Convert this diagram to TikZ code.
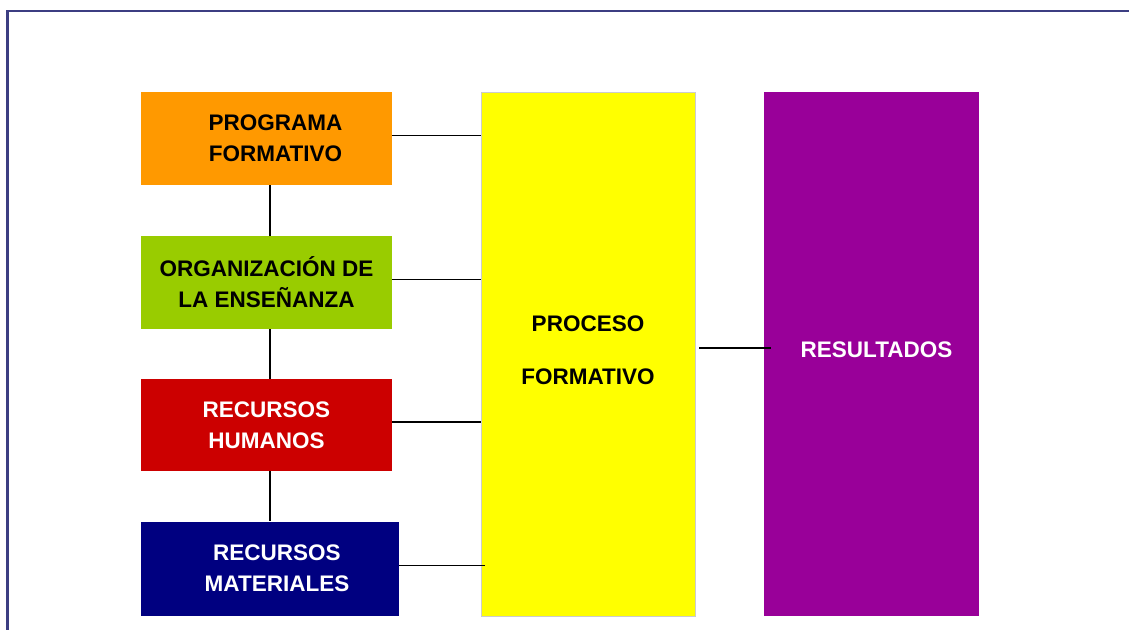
\documentclass[tikz,border=0pt]{standalone}
\usepackage{fontspec}
\setmainfont{Liberation Sans}
\usetikzlibrary{positioning}
\definecolor{pfOrange}{RGB}{255,153,0}
\definecolor{pfGreen}{RGB}{153,204,0}
\definecolor{pfRed}{RGB}{204,0,0}
\definecolor{pfNavy}{RGB}{0,0,128}
\definecolor{pfYellow}{RGB}{255,255,0}
\definecolor{pfPurple}{RGB}{153,0,153}
\definecolor{pfFrame}{RGB}{60,62,130}
\begin{document}
\begin{tikzpicture}[x=0.5pt, y=-0.5pt,
  box/.style={inner sep=0pt, align=center, font=\fontsize{11.25}{15.5}\selectfont\bfseries},
  link/.style={black, line width=0.6pt}]
  \useasboundingbox (0,0) rectangle (1129,630);
  % Frame
  \draw[pfFrame, line width=1.1pt] (7.5,640) -- (7.5,11) -- (1140,11);

  % Inputs
  \node[box, fill=pfOrange, minimum width=125.5pt, minimum height=46.5pt,
    label={[box, xshift=4.5pt]center:PROGRAMA\\FORMATIVO}] (pf) at (266.5,138.5) {};
  \node[box, fill=pfGreen, minimum width=125.5pt, minimum height=46.5pt] (oe) at (266.5,282.5) {ORGANIZACIÓN DE\\LA ENSEÑANZA};
  \node[box, fill=pfRed, text=white, minimum width=125.5pt, minimum height=46pt] (rh) at (266.5,425) {RECURSOS\\HUMANOS};
  \node[box, fill=pfNavy, minimum width=129pt, minimum height=47pt,
    label={[box, text=white, xshift=3.5pt]center:RECURSOS\\MATERIALES}] (rm) at (270,568.5) {};

  % Process and results
  \node[box, fill=pfYellow, draw=black!20, line width=0.4pt, minimum width=107pt, minimum height=262pt,
    label={[box, yshift=2pt]center:PROCESO\\[11pt]FORMATIVO}] (pr) at (588,354) {};
  \node[box, fill=pfPurple, minimum width=107.5pt, minimum height=262pt,
    label={[box, text=white, xshift=2.5pt, yshift=2pt]center:RESULTADOS}] (res) at (871.5,354) {};

  % Connectors
  \draw[link] (pf.south -| rm.north) -- (oe.north -| rm.north);
  \draw[link] (oe.south -| rm.north) -- (rh.north -| rm.north);
  \draw[link] (rh.south -| rm.north) -- (rm.north);
  \draw[link] ([yshift=1.5pt]pf.east) -- ([yshift=1.5pt]pf.east -| pr.west);
  \draw[link] ([yshift=1.5pt]oe.east) -- ([yshift=1.5pt]oe.east -| pr.west);
  \draw[link] ([yshift=1.5pt]rh.east) -- ([yshift=1.5pt]rh.east -| pr.west);
  \draw[link] ([yshift=1.5pt]rm.east) -- ([xshift=2pt, yshift=1.5pt]rm.east -| pr.west);
  \draw[link] ([xshift=2pt, yshift=3pt]pr.east) -- ([xshift=3.5pt, yshift=3pt]res.west);
\end{tikzpicture}
\end{document}
